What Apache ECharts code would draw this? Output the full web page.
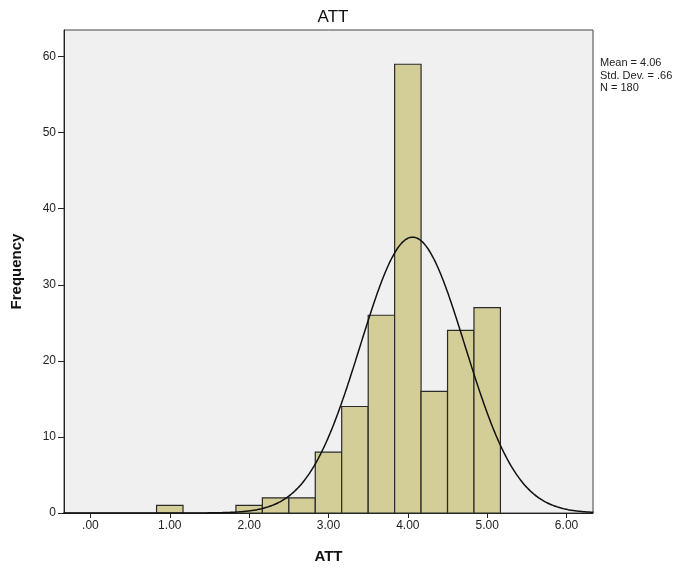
<!DOCTYPE html>
<html>
<head>
<meta charset="utf-8">
<script src="https://cdn.jsdelivr.net/npm/echarts@6/dist/echarts.min.js"></script>
<style>
  html, body { margin: 0; padding: 0; background: #fff; }
  #main { width: 694px; height: 572px; }
</style>
</head>
<body>
<div id="main"></div>
<script>
// bin centres (width 1/3) and their frequencies
var binCenters = [1.00, 2.00, 2.333, 2.667, 3.00, 3.333, 3.667, 4.00, 4.333, 4.667, 5.00];
var binCounts  = [1, 1, 2, 2, 8, 14, 26, 59, 16, 24, 27];
var binWidth = 1 / 3;

// summary stats shown beside the plot
var statMean = 4.06;
var statSd = 0.66;
var statN = 180;

// axis tick labels
var xTicks = [0, 1, 2, 3, 4, 5, 6];
var yTicks = [0, 10, 20, 30, 40, 50, 60];

var fontFam = '"Liberation Sans", Arial, sans-serif';

// fitted normal curve, scaled to counts per bin
var curve = [];
for (var x = -0.34; x <= 6.34; x += 0.02) {
    var z = (x - statMean) / statSd;
    var y = statN * binWidth / (statSd * Math.sqrt(2 * Math.PI)) * Math.exp(-0.5 * z * z);
    curve.push([x, y]);
}

var histData = [];
for (var i = 0; i < binCenters.length; i++) {
    histData.push([binCenters[i], binCounts[i]]);
}

var chart = echarts.init(document.getElementById('main'));
chart.setOption({
    backgroundColor: '#ffffff',
    animation: false,
    title: {
        text: 'ATT',
        left: 328,
        textAlign: 'center',
        top: 4,
        textStyle: { fontFamily: fontFam, fontSize: 17, fontWeight: 'normal', color: '#111' }
    },
    grid: {
        left: 64, right: 101, top: 30, bottom: 59,
        show: true,
        backgroundColor: '#f0f0f0',
        borderColor: '#444',
        borderWidth: 1
    },
    xAxis: {
        type: 'value',
        min: -1 / 3,
        max: 6 + 1 / 3,
        name: 'ATT',
        nameLocation: 'middle',
        nameGap: 36,
        nameTextStyle: { fontFamily: fontFam, fontSize: 15, fontWeight: 'bold', color: '#111' },
        splitLine: { show: false },
        axisLine: { onZero: false, lineStyle: { color: '#222', width: 1 } },
        axisTick: { customValues: xTicks, length: 5, lineStyle: { color: '#222' } },
        axisLabel: {
            customValues: xTicks,
            fontFamily: fontFam, fontSize: 12, color: '#222', margin: 7,
            formatter: function (v) { return v === 0 ? '.00' : v.toFixed(2); }
        }
    },
    yAxis: {
        type: 'value',
        min: 0,
        max: 63.5,
        interval: 10,
        name: 'Frequency',
        nameLocation: 'middle',
        nameRotate: 90,
        nameGap: 40,
        nameTextStyle: { fontFamily: fontFam, fontSize: 15, fontWeight: 'bold', color: '#111' },
        splitLine: { show: false },
        axisLine: { show: true, onZero: false, lineStyle: { color: '#222', width: 1 } },
        axisTick: { show: true, length: 6, lineStyle: { color: '#222' } },
        axisLabel: {
            fontFamily: fontFam, fontSize: 12, color: '#222', margin: 8,
            showMaxLabel: false,
            formatter: function (v) { return yTicks.indexOf(v) >= 0 ? String(v) : ''; }
        }
    },
    graphic: [{
        type: 'text',
        left: 600,
        top: 57,
        style: {
            text: 'Mean = ' + statMean.toFixed(2) + '\nStd. Dev. = .' + Math.round(statSd * 100) + '\nN = ' + statN,
            font: '11px ' + fontFam,
            fill: '#222',
            lineHeight: 12.5
        }
    }],
    series: [{
        type: 'custom',
        data: histData,
        renderItem: function (params, api) {
            var c = api.value(0), v = api.value(1);
            var p0 = api.coord([c - binWidth / 2, v]);
            var p1 = api.coord([c + binWidth / 2, 0]);
            return {
                type: 'rect',
                shape: { x: p0[0], y: p0[1], width: p1[0] - p0[0], height: p1[1] - p0[1] },
                style: { fill: '#d3ce97', stroke: '#2a2a2a', lineWidth: 1.2 }
            };
        },
        z: 2
    }, {
        type: 'line',
        data: curve,
        showSymbol: false,
        smooth: true,
        lineStyle: { color: '#111', width: 1.5 },
        z: 3
    }]
});
</script>
</body>
</html>
